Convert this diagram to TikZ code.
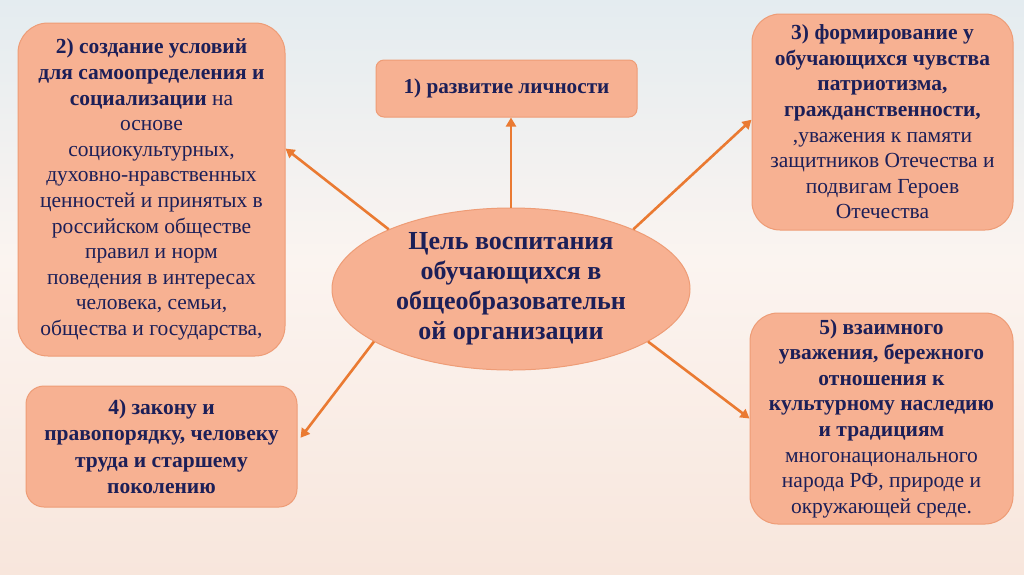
\documentclass[tikz,border=0pt]{standalone}
\usepackage{fontspec}
\setmainfont{Liberation Serif}
\usetikzlibrary{arrows.meta,positioning,shapes.geometric}
\definecolor{skytop}{HTML}{E4ECF0}
\definecolor{skymid}{HTML}{FBF4F0}
\definecolor{skybot}{HTML}{F8E6DC}
\definecolor{boxfill}{HTML}{F7B192}
\definecolor{boxline}{HTML}{EE9C76}
\definecolor{arrcol}{HTML}{EA7A32}
\definecolor{ink}{HTML}{1C1F58}

\tikzset{
  goalbox/.style={ellipse,draw=boxline,fill=boxfill,line width=1pt,
    inner sep=0pt,text=ink,align=center,
    font=\fontsize{26}{30}\selectfont\bfseries},
  itembox/.style={rectangle,draw=boxline,fill=boxfill,line width=1pt,
    inner sep=0pt,text=ink,align=center,
    font=\fontsize{21.5}{25.6}\selectfont},
  arr/.style={arrcol,line width=2.6pt,-{Triangle[length=9pt,width=10pt]}}
}

\begin{document}
\begin{tikzpicture}[x=1pt,y=-1pt]
  \useasboundingbox (0,0) rectangle (1024,574);
  % Sky background
  \fill[top color=skytop,bottom color=skymid] (0,0) rectangle (1024,260);
  \fill[top color=skymid,bottom color=skybot] (0,260) rectangle (1024,574);
  % Centre
  \node[goalbox,minimum width=358pt,minimum height=162pt] (goal) at (511,289)
    {Цель воспитания\\обучающихся в\\общеобразовательн\\ой организации};
  % Items
  \node[itembox,font=\fontsize{21.2}{25.6}\selectfont\bfseries,
    rounded corners=8pt,minimum width=261pt,minimum height=57pt]
    (lich) at (506.5,88.5) {1) развитие личности};
  \node[itembox,rounded corners=30pt,minimum width=267pt,minimum height=333pt]
    (usl) at (151.5,189.5)
    {\textbf{2) создание условий}\\\textbf{для самоопределения и}\\
     \textbf{социализации} на\\основе\\социокультурных,\\
     духовно-нравственных\\ценностей и принятых в\\российском обществе\\
     правил и норм\\поведения в интересах\\человека, семьи,\\
     общества и государства,};
  \node[itembox,rounded corners=28pt,minimum width=261pt,minimum height=216pt]
    (patr) at (882.5,122)
    {\textbf{3) формирование у}\\\textbf{обучающихся чувства}\\
     \textbf{патриотизма,}\\\textbf{гражданственности,}\\
     ,уважения к памяти\\защитников Отечества и\\подвигам Героев\\Отечества};
  \node[itembox,font=\fontsize{21.5}{26.5}\selectfont\bfseries,
    rounded corners=18pt,minimum width=271pt,minimum height=121pt]
    (zakon) at (161.5,446.5)
    {4) закону и\\правопорядку, человеку\\труда и старшему\\поколению};
  \node[itembox,rounded corners=28pt,minimum width=263pt,minimum height=211pt]
    (uvazh) at (881.5,418.5)
    {\textbf{5) взаимного}\\\textbf{уважения, бережного}\\
     \textbf{отношения к}\\\textbf{культурному наследию}\\
     \textbf{и традициям}\\многонационального\\народа РФ, природе и\\
     окружающей среде.};
  % Arrows
  \draw[arr] (goal.north) -- (goal.north |- lich.south);
  \draw[arr] (goal.154) -- (usl.17);
  \draw[arr] (goal.26) -- (patr.179);
  \draw[arr,shorten >=5pt] (goal.201) -- (zakon.2);
  \draw[arr] (goal.339) -- (uvazh.west);
\end{tikzpicture}
\end{document}
